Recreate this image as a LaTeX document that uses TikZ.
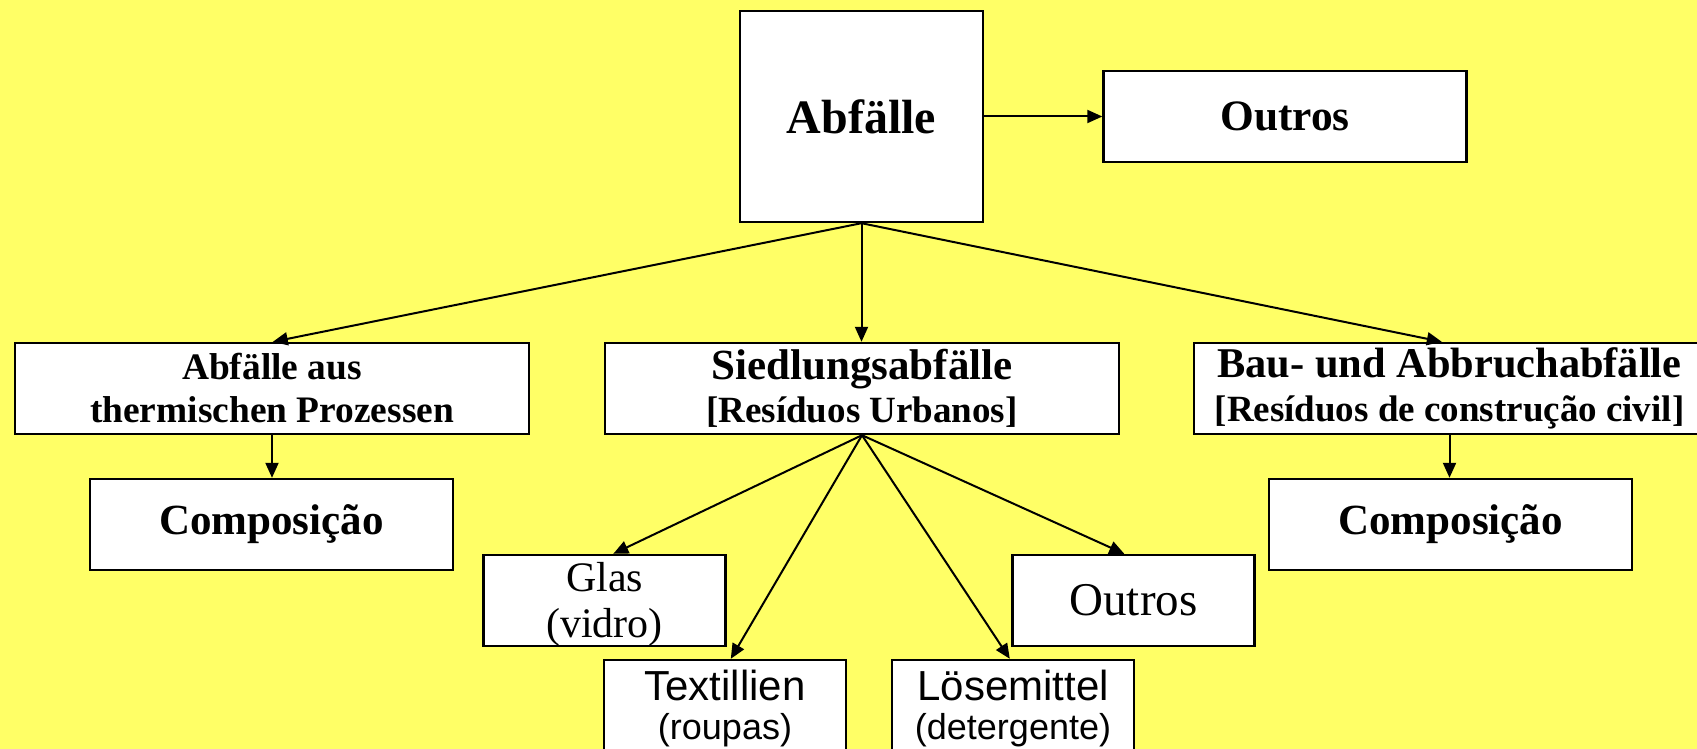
\documentclass[tikz,border=0pt]{standalone}
\usepackage{fontspec}
\setmainfont{Liberation Serif}
\setsansfont{Liberation Sans}
\usetikzlibrary{arrows.meta,calc}
\definecolor{bgyellow}{RGB}{255,255,102}
\newcommand\setfs[2]{\fontsize{#1}{#2}\selectfont}

\begin{document}
\begin{tikzpicture}[x=0.5pt,y=-0.5pt,
  box/.style={rectangle, draw=black, line width=1.2pt, fill=white,
              inner sep=0pt, align=center},
  wide/.style={box, minimum width=257pt, minimum height=45.5pt},
  mid/.style={box, minimum width=181.5pt, minimum height=45.5pt},
  small/.style={box, minimum width=121pt, minimum height=45.5pt},
  conn/.style={line width=1pt, -{Triangle[length=7.5pt,width=6.5pt]}},
]
% background and page frame
\path[fill=bgyellow, use as bounding box] (0,0) rectangle (1697,749);
\clip (0,0) rectangle (1697,749);

% top level
\node[box, minimum width=121.5pt, minimum height=105.5pt,
      font=\bfseries\setfs{24}{28}] (abf) at (861.5,116.5) {Abfälle};
\node[mid, font=\bfseries\setfs{21.7}{25}] (outtop) at (1285,116.5) {Outros};

% second level
\node[wide, font=\bfseries\setfs{18.7}{21.5}] (aus) at (272,388.5)
  {Abfälle aus\\thermischen Prozessen};
\node[wide, font=\bfseries\setfs{21.5}{21.8}] (sied) at (862,388.5)
  {Siedlungsabfälle\\ \setfs{18.5}{21.8}{[}Resíduos Urbanos{]}};
\node[box, minimum width=255.5pt, minimum height=45.5pt,
      font=\bfseries\setfs{21.2}{22}] (bau) at (1449.5,388.5)
  {Bau- und Abbruchabfälle\\ \setfs{18.5}{22}{[}Resíduos de construção civil{]}};

% composition boxes
\node[mid, font=\bfseries\setfs{21.5}{25}] (compA) at (271.5,524.5) {Composição};
\node[mid, font=\bfseries\setfs{21.5}{25}] (compB) at (1450.5,524.5) {Composição};

% urban waste fractions (top struts keep the two-line texts a little lower)
\node[small, font=\setfs{21}{23}] (glas) at (604.5,600.5) {\rule{0pt}{18pt}Glas\\(vidro)};
\node[small, font=\setfs{23.5}{27}] (outlow) at (1133.5,600.5) {Outros};
\node[small, font=\sffamily\setfs{21}{19.5}] (text) at (725,705.5)
  {\rule{0pt}{18.5pt}Textillien\\ \setfs{18}{19.5}(roupas)};
\node[small, font=\sffamily\setfs{21}{19.5}] (loes) at (1013,705.5)
  {\rule{0pt}{18.5pt}Lösemittel\\ \setfs{18}{19.5}(detergente)};

% connectors
\draw[conn] (abf.east) -- (abf.east -| outtop.west);
\draw[conn] (abf.south) -- ($(aus.north west)+(259,0)$);
\draw[conn] (abf.south) -- (abf.south |- sied.north);
\draw[conn] (abf.south) -- ($(bau.north west)+(249,0)$);
\draw[conn] (aus.south) -- (aus.south |- compA.north);
\draw[conn] (bau.south) -- (bau.south |- compB.north);
\draw[conn] (sied.south) -- ($(glas.north west)+(131,0)$);
\draw[conn] (sied.south) -- ($(text.north west)+(128,0)$);
\draw[conn] (sied.south) -- ($(loes.north west)+(119,0)$);
\draw[conn] (sied.south) -- ($(outlow.north west)+(113,0)$);
\end{tikzpicture}
\end{document}
